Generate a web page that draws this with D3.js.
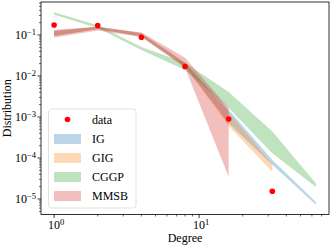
<!DOCTYPE html>
<html>
<head>
<meta charset="utf-8">
<script src="https://cdn.jsdelivr.net/npm/d3@7"></script>
<style>
  body { margin: 0; background: #fff; }
  text { font-family: "Liberation Serif", "DejaVu Serif", serif; fill: #000; }
</style>
</head>
<body>
<div id="chart"></div>
<script>
// observed degree distribution
const degrees = [1, 2, 4, 8, 16, 32];
const dataValues = [0.175, 0.17, 0.088, 0.017, 0.00089, 1.55e-5];

// model bands (min / max over samples)
const igDegrees = [1, 2, 4, 8, 16, 32, 64];
const igLow  = [0.095, 0.14, 0.092, 0.017, 0.0007, 6.8e-5, 7.2e-6];
const igHigh = [0.125, 0.16, 0.11, 0.021, 0.0015, 9e-5, 8.5e-6];

const gigDegrees = [1, 2, 4, 8, 16, 32];
const gigLow  = [0.095, 0.14, 0.092, 0.017, 0.0006, 4.6e-5];
const gigHigh = [0.125, 0.16, 0.11, 0.021, 0.0013, 7e-5];

const cggpDegrees = [1, 2, 4, 8, 16, 32, 64];
const cggpLow  = [0.31, 0.148, 0.043, 0.014, 0.00166, 1.3e-4, 1.95e-5];
const cggpHigh = [0.36, 0.174, 0.051, 0.021, 0.0041, 4.4e-4, 2.4e-5];

const mmsbDegrees = [1, 2, 4, 8, 16];
const mmsbLow  = [0.087, 0.128, 0.09, 0.016, 3.5e-5];
const mmsbHigh = [0.135, 0.158, 0.115, 0.028, 0.00166];

const xTicks = [1, 10];
const yTicks = [1e-5, 1e-4, 1e-3, 1e-2, 1e-1];

const width = 332;
const height = 245;
const margin = {top: 2, right: 3, bottom: 30.5, left: 41};

const svg = d3.select("#chart")
    .append("svg")
    .attr("width", width)
    .attr("height", height);

const x = d3.scaleLog()
    .domain([Math.pow(10, -0.0903), Math.pow(10, 1.896)])
    .range([margin.left, width - margin.right]);

const y = d3.scaleLog()
    .domain([Math.pow(10, -5.378), Math.pow(10, -0.195)])
    .range([height - margin.bottom, margin.top]);

const series = [
    {name: "IG",   color: "#1f77b4", xs: igDegrees,   lo: igLow,   hi: igHigh},
    {name: "GIG",  color: "#ff7f0e", xs: gigDegrees,  lo: gigLow,  hi: gigHigh},
    {name: "CGGP", color: "#2ca02c", xs: cggpDegrees, lo: cggpLow, hi: cggpHigh},
    {name: "MMSB", color: "#d62728", xs: mmsbDegrees, lo: mmsbLow, hi: mmsbHigh}
];

const area = d3.area()
    .x(d => x(d.x))
    .y0(d => y(d.lo))
    .y1(d => y(d.hi));

// bands
series.forEach(s => {
    const pts = s.xs.map((v, i) => ({x: v, lo: s.lo[i], hi: s.hi[i]}));
    svg.append("path")
        .datum(pts)
        .attr("d", area)
        .attr("fill", s.color)
        .attr("fill-opacity", 0.3)
        .attr("stroke", "none");
});

// data points
svg.selectAll(".dot")
    .data(degrees.map((d, i) => ({x: d, v: dataValues[i]})))
    .enter()
    .append("circle")
    .attr("class", "dot")
    .attr("cx", d => x(d.x))
    .attr("cy", d => y(d.v))
    .attr("r", 2.8)
    .attr("fill", "#ff0000");

// minor + major ticks
const x0 = margin.left, x1 = width - margin.right;
const y0 = height - margin.bottom, y1 = margin.top;
const ticksG = svg.append("g").attr("stroke", "#000");

const xMinor = [];
[1, 10].forEach(b => { for (let k = 2; k <= 9; k++) xMinor.push(b * k); });
xMinor.filter(v => x(v) <= x1).forEach(v => {
    ticksG.append("line").attr("x1", x(v)).attr("x2", x(v))
        .attr("y1", y0).attr("y2", y0 + 2).attr("stroke-width", 0.6);
});
xTicks.forEach(v => {
    ticksG.append("line").attr("x1", x(v)).attr("x2", x(v))
        .attr("y1", y0).attr("y2", y0 + 3.5).attr("stroke-width", 0.8);
});

const yMinor = [];
[1e-6, 1e-5, 1e-4, 1e-3, 1e-2, 1e-1].forEach(b => { for (let k = 2; k <= 9; k++) yMinor.push(b * k); });
yMinor.filter(v => y(v) >= y1 && y(v) <= y0).forEach(v => {
    ticksG.append("line").attr("x1", x0 - 2).attr("x2", x0)
        .attr("y1", y(v)).attr("y2", y(v)).attr("stroke-width", 0.6);
});
yTicks.forEach(v => {
    ticksG.append("line").attr("x1", x0 - 3.5).attr("x2", x0)
        .attr("y1", y(v)).attr("y2", y(v)).attr("stroke-width", 0.8);
});

// tick labels as 10^n
function powLabel(sel, v) {
    const e = Math.round(Math.log10(v));
    sel.append("tspan").text("10");
    sel.append("tspan")
        .attr("dy", "-0.45em")
        .attr("font-size", "8.5px")
        .text(e < 0 ? "\u2212" + (-e) : String(e));
}

xTicks.forEach(v => {
    const t = svg.append("text")
        .attr("x", x(v) - 6)
        .attr("y", y0 + 14)
        .attr("font-size", "12px");
    powLabel(t, v);
});

yTicks.forEach(v => {
    const t = svg.append("text")
        .attr("x", x0 - 5)
        .attr("y", y(v) + 4)
        .attr("text-anchor", "end")
        .attr("font-size", "12px");
    powLabel(t, v);
});

// frame
svg.append("rect")
    .attr("x", x0).attr("y", y1)
    .attr("width", x1 - x0).attr("height", y0 - y1)
    .attr("fill", "none").attr("stroke", "#000").attr("stroke-width", 0.8);

// axis labels
svg.append("text")
    .attr("x", (x0 + x1) / 2)
    .attr("y", 242)
    .attr("text-anchor", "middle")
    .attr("font-size", "12px")
    .text("Degree");

svg.append("text")
    .attr("transform", `translate(10.5,${(y0 + y1) / 2}) rotate(-90)`)
    .attr("text-anchor", "middle")
    .attr("font-size", "12px")
    .text("Distribution");

// legend
const legend = svg.append("g");
legend.append("rect")
    .attr("x", 48.5).attr("y", 109)
    .attr("width", 87.5).attr("height", 99)
    .attr("rx", 3)
    .attr("fill", "#fff").attr("fill-opacity", 0.8)
    .attr("stroke", "#d9d9d9").attr("stroke-width", 0.8);

legend.append("circle")
    .attr("cx", 67.5).attr("cy", 119.5).attr("r", 2.8).attr("fill", "#ff0000");
legend.append("text")
    .attr("x", 92).attr("y", 123.5).attr("font-size", "12px").text("data");

series.forEach((s, i) => {
    const cy = 139 + i * 19;
    legend.append("rect")
        .attr("x", 54).attr("y", cy - 5)
        .attr("width", 27).attr("height", 10)
        .attr("fill", s.color).attr("fill-opacity", 0.3);
    legend.append("text")
        .attr("x", 92).attr("y", cy + 4)
        .attr("font-size", "12px")
        .text(s.name);
});
</script>
</body>
</html>
